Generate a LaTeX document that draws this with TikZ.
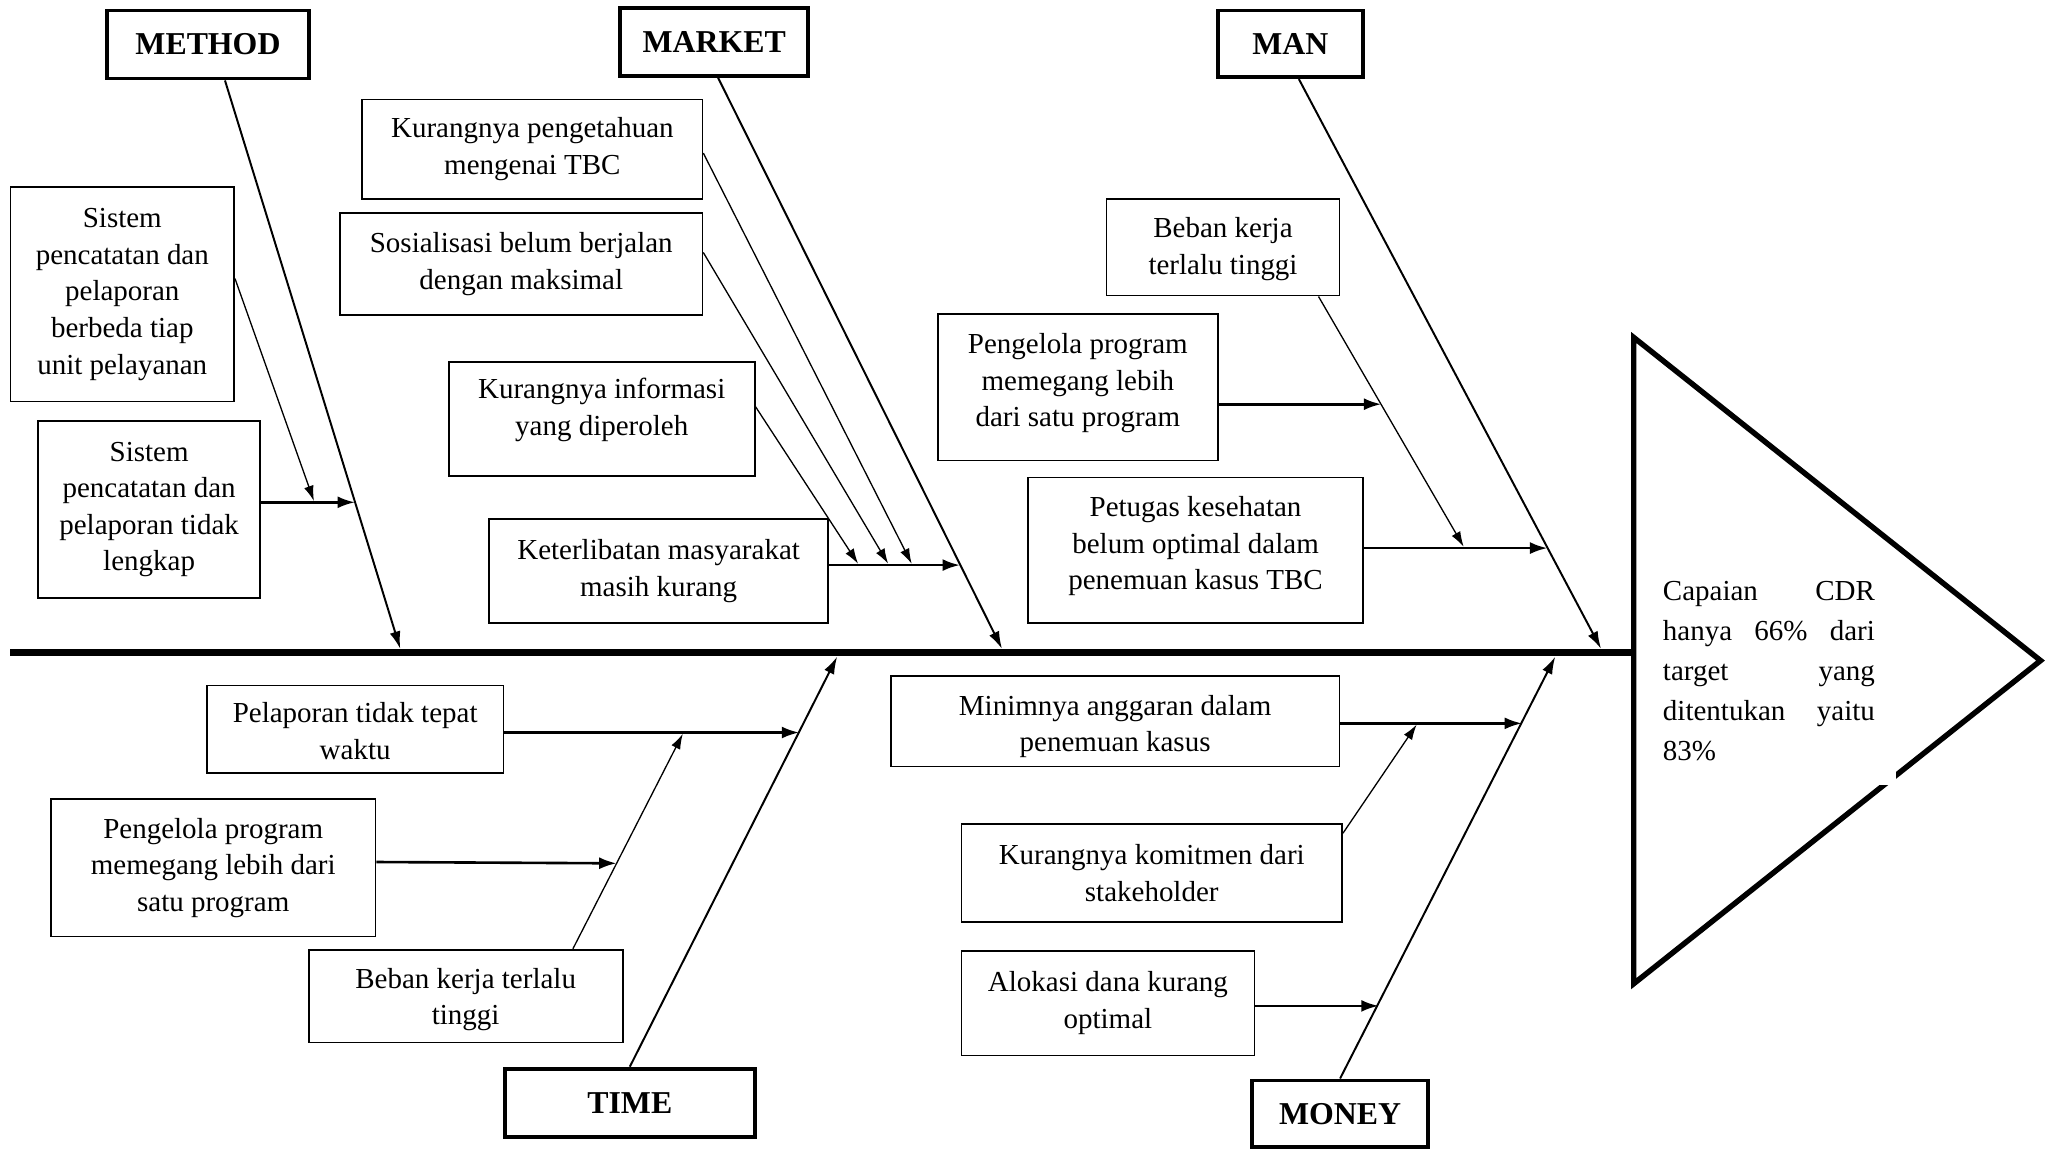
\documentclass[tikz,border=0pt]{standalone}
\usepackage{fontspec}
\setmainfont{Liberation Serif}
\usetikzlibrary{arrows.meta}
\begin{document}
\def\u{0.6pt}
\begin{tikzpicture}[x=0.6pt,y=-0.6pt,
  txt/.style={font=\fontsize{13.3}{16.8}\selectfont, align=center},
  sub/.style={txt, draw, line width=0.8pt, inner sep=1pt},
  cat/.style={draw, line width=1.8pt, font=\fontsize{14.6}{17}\selectfont\bfseries, inner sep=0pt},
  branch/.style={line width=0.9pt, -{Latex[length=8pt,width=5pt]}},
  slant/.style={line width=0.6pt, -{Latex[length=7pt,width=4.5pt]}},
  hor/.style={line width=1.2pt, -{Latex[length=8pt,width=5.5pt]}},
]
\useasboundingbox (0,0) rectangle (1568,878);

% spine and head
\coordinate (tail) at (8,499);
\coordinate (neck) at (1249,499);
\coordinate (hT) at (1249,258);
\coordinate (hB) at (1249,752);
\coordinate (hTip) at (1560,505);
\draw[line width=2.5pt, line join=miter] (hT) -- (hTip) -- (hB) -- cycle;
\draw[line width=3pt] (tail) -- (neck);
\fill[white] (1262,430) rectangle (1449.5,600);
\node[font=\fontsize{13.3}{18.3}\selectfont, anchor=north west, inner sep=0pt, align=left] (cdr) at (1271,444)
  {\makebox[97.2pt][s]{Capaian CDR}\\ \makebox[97.2pt][s]{hanya 66\% dari}\\ \makebox[97.2pt][s]{target yang}\\ \makebox[97.2pt][s]{ditentukan yaitu}\\ \makebox[97.2pt][l]{83\%}};

% category boxes
\node[cat, minimum width=154*\u, minimum height=52*\u] (method) at (159,34) {METHOD};
\node[cat, minimum width=144*\u, minimum height=52*\u] (market) at (546,32) {MARKET};
\node[cat, minimum width=111*\u, minimum height=51*\u] (man) at (986.5,33.5) {MAN};
\node[cat, minimum width=191*\u, minimum height=52*\u] (time) at (481.5,843) {TIME};
\node[cat, minimum width=135*\u, minimum height=51*\u] (money) at (1024.5,851.5) {MONEY};

% branch end points on the spine
\coordinate (eMethod) at (306,496);
\coordinate (eMarket) at (766,496);
\coordinate (eMan) at (1224,496);
\coordinate (eTime) at (640,502);
\coordinate (eMoney) at (1189,502);

\draw[branch] ([xshift=13*\u]method.south) -- (eMethod);
\draw[branch] ([xshift=3*\u]market.south) -- (eMarket);
\draw[branch] ([xshift=6.5*\u]man.south) -- (eMan);
\draw[branch] (time.north) -- (eTime);
\draw[branch] (money.north) -- (eMoney);

% METHOD causes
\node[sub, minimum width=171*\u, minimum height=164*\u] (m1) at (93.5,225) {Sistem\\pencatatan dan\\pelaporan\\berbeda tiap\\unit pelayanan};
\node[sub, minimum width=170*\u, minimum height=135*\u] (m2) at (114,389.5) {Sistem\\pencatatan dan\\pelaporan tidak\\lengkap};
\coordinate (em1) at (240,383);
\coordinate (em2) at (271.4,384);
\draw[hor] ([yshift=5.5*\u]m2.east) -- (em2);
\draw[slant] ([yshift=12*\u]m1.east) -- (em1);

% MARKET causes
\node[sub, minimum width=260*\u, minimum height=76*\u] (k1) at (407,114) {Kurangnya pengetahuan\\mengenai TBC};
\node[sub, minimum width=277*\u, minimum height=78*\u] (k2) at (398.5,202) {Sosialisasi belum berjalan\\dengan maksimal};
\node[sub, minimum width=234*\u, minimum height=87*\u] (k3) at (460,320.5) {Kurangnya informasi\\yang diperoleh\rule[-11.3pt]{0pt}{0pt}};
\node[sub, minimum width=259*\u, minimum height=79*\u] (k4) at (503.5,436.5) {Keterlibatan masyarakat\\masih kurang};
\coordinate (ek1) at (697,431);
\coordinate (ek2) at (679,431);
\coordinate (ek3) at (656,431);
\coordinate (ek4) at (733.9,432);
\draw[hor] ([yshift=4.5*\u]k4.east) -- (ek4);
\draw[slant] ([yshift=-3*\u]k1.east) -- (ek1);
\draw[slant] ([yshift=9*\u]k2.east) -- (ek2);
\draw[slant] ([yshift=9.5*\u]k3.east) -- (ek3);

% MAN causes
\node[sub, minimum width=178*\u, minimum height=74*\u] (n1) at (935,189) {\rule{0pt}{11pt}Beban kerja\\terlalu tinggi};
\node[sub, minimum width=214*\u, minimum height=112*\u] (n2) at (824,296) {Pengelola program\\memegang lebih\\dari satu program\rule[-6.5pt]{0pt}{0pt}};
\node[sub, minimum width=256*\u, minimum height=111*\u] (n3) at (914,420.5) {Petugas kesehatan\\belum optimal dalam\\penemuan kasus TBC\rule[-6.5pt]{0pt}{0pt}};
\coordinate (en1) at (1119,418);
\coordinate (en2) at (1056,309);
\coordinate (en3) at (1183,419);
\draw[slant] ([xshift=73*\u]n1.south) -- (en1);
\draw[hor] ([yshift=-13*\u]n2.east) -- (en2);
\draw[hor] ([yshift=1.5*\u]n3.east) -- (en3);

% TIME causes
\node[sub, minimum width=227*\u, minimum height=67*\u] (t1) at (271.5,557.5) {\rule{0pt}{11pt}Pelaporan tidak tepat\\waktu};
\node[sub, minimum width=248*\u, minimum height=105*\u] (t2) at (163,663.5) {Pengelola program\\memegang lebih dari\\satu program};
\node[sub, minimum width=240*\u, minimum height=71*\u] (t3) at (356,761.5) {\rule{0pt}{12.5pt}Beban kerja terlalu\\tinggi};
\coordinate (et1) at (611,560);
\coordinate (et2) at (471.4,660);
\coordinate (et3) at (522,561);
\draw[hor] ([yshift=-2.5*\u]t1.east) -- (et1);
\draw[hor] ([yshift=4.5*\u]t2.east) -- (et2);
\draw[slant] ([xshift=82*\u]t3.north) -- (et3);

% MONEY causes
\node[sub, minimum width=343*\u, minimum height=69*\u] (y1) at (852.5,551.5) {\rule{0pt}{13.9pt}Minimnya anggaran dalam\\penemuan kasus};
\node[sub, minimum width=291*\u, minimum height=75*\u] (y2) at (880.5,667.5) {Kurangnya komitmen dari\\stakeholder};
\node[sub, minimum width=224*\u, minimum height=80*\u] (y3) at (847,767) {Alokasi dana kurang\\optimal};
\coordinate (ey1) at (1163.6,553);
\coordinate (ey2) at (1083,554);
\coordinate (ey3) at (1054,769);
\draw[hor] ([yshift=-1.5*\u]y1.east) -- (ey1);
\draw[slant] ([yshift=30.5*\u]y2.east) -- (ey2);
\draw[hor] ([yshift=-2*\u]y3.east) -- (ey3);
\end{tikzpicture}
\end{document}
